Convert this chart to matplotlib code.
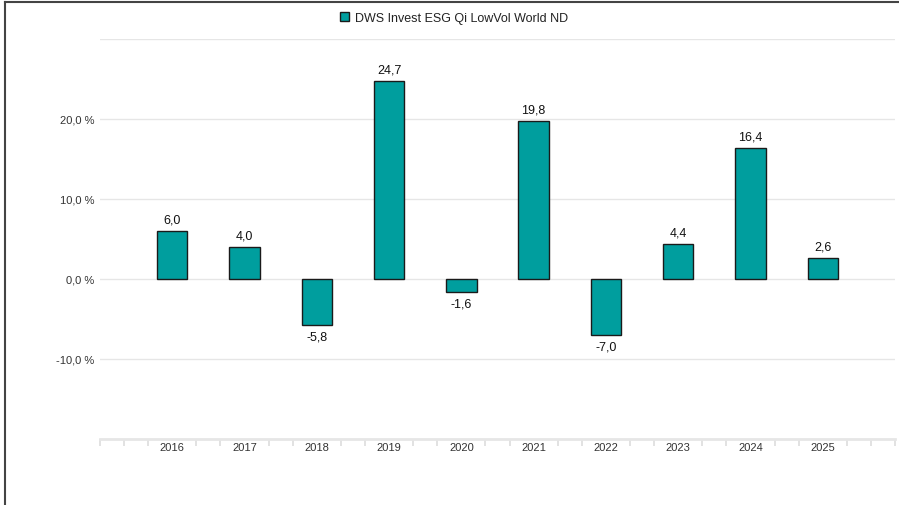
import matplotlib
matplotlib.use("Agg")
import matplotlib.pyplot as plt
from matplotlib.lines import Line2D
import numpy as np

plt.rcParams['font.family'] = ['Liberation Sans', 'DejaVu Sans']

years = ["2016", "2017", "2018", "2019", "2020", "2021", "2022", "2023", "2024", "2025"]
returns = [6.0, 4.0, -5.8, 24.7, -1.6, 19.8, -7.0, 4.4, 16.4, 2.6]
series_name = "DWS Invest ESG Qi LowVol World ND"
y_ticks = [-10, 0, 10, 20]
y_tick_labels = ["-10,0 %", "0,0 %", "10,0 %", "20,0 %"]

bar_color = "#009e9e"
grid_color = "#e6e6e6"

fig = plt.figure(figsize=(8.99, 5.06), dpi=100)
ax = fig.add_axes([100 / 899, 66 / 506, 795 / 899, 400 / 506])

x = np.arange(len(years))
bars = ax.bar(x, returns, width=0.42, color=bar_color, edgecolor="#1a1a1a",
              linewidth=1, zorder=3, label=series_name)

for xi, v in zip(x, returns):
    txt = f"{v:.1f}".replace(".", ",")
    if v >= 0:
        ax.annotate(txt, (xi, v), xytext=(0, 4), textcoords="offset points",
                    ha="center", va="bottom", fontsize=9, color="#111111")
    else:
        ax.annotate(txt, (xi, v), xytext=(0, -4), textcoords="offset points",
                    ha="center", va="top", fontsize=9, color="#111111")

ax.set_xlim(-1, 10)
ax.set_ylim(-20, 30)

# gridlines
for g in [-10, 0, 10, 20, 30]:
    ax.axhline(g, color=grid_color, linewidth=1, zorder=1)

ax.set_yticks(y_ticks)
ax.set_yticklabels(y_tick_labels)
ax.tick_params(axis="y", length=0, pad=4, labelsize=8, labelcolor="#333333")

ax.set_xticks(x)
ax.set_xticklabels(years)
ax.tick_params(axis="x", which="major", length=0, pad=2, labelsize=8, labelcolor="#333333")
minor = [k / 3 for k in range(-3, 31) if k % 3 != 0 or k in (-3, 30)]
ax.set_xticks(minor, minor=True)
ax.tick_params(axis="x", which="minor", length=5, width=1.2, color="#dddddd")

for s in ["top", "right", "left"]:
    ax.spines[s].set_visible(False)
ax.spines["bottom"].set_color(grid_color)
ax.spines["bottom"].set_linewidth(2)

fig.legend(handles=[bars], loc="center", bbox_to_anchor=(454 / 899, 1 - 19 / 506),
           frameon=False, fontsize=9, handlelength=0.7, handleheight=0.7,
           handletextpad=0.5, labelcolor="#222222")

# outer frame (top and left)
fig.add_artist(Line2D([5 / 899, 1], [1 - 3 / 506, 1 - 3 / 506], color="#444444", linewidth=1.5))
fig.add_artist(Line2D([5 / 899, 5 / 899], [0, 1 - 3 / 506], color="#444444", linewidth=1.5))

fig.savefig("out.png", dpi=100)
